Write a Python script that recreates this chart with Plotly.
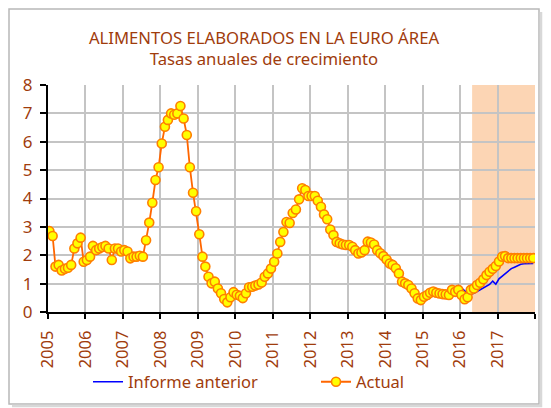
import plotly.graph_objects as go

# ==========================================
# DATA
# ==========================================

years = list(range(2005, 2018))
months = [f"{y}-{m:02d}-15" for y in years for m in range(1, 13)]

actual = [
    2.85, 2.68, 1.60, 1.66, 1.46, 1.52, 1.56, 1.66, 2.24, 2.42, 2.62, 1.77,  # 2005
    1.83, 1.95, 2.33, 2.18, 2.24, 2.29, 2.33, 2.24, 1.83, 2.24, 2.24, 2.13,  # 2006
    2.18, 2.13, 1.89, 1.95, 1.95, 1.98, 1.95, 2.53, 3.15, 3.85, 4.65, 5.10,  # 2007
    5.94, 6.53, 6.77, 7.00, 6.95, 7.00, 7.26, 6.82, 6.24, 5.10, 4.20, 3.55,  # 2008
    2.74, 1.95, 1.60, 1.24, 1.01, 1.07, 0.83, 0.66, 0.46, 0.34, 0.52, 0.70,  # 2009
    0.61, 0.57, 0.49, 0.66, 0.87, 0.89, 0.93, 0.97, 1.04, 1.24, 1.36, 1.53,  # 2010
    1.77, 2.06, 2.47, 2.82, 3.17, 3.14, 3.49, 3.61, 3.97, 4.36, 4.30, 4.09,  # 2011
    4.09, 4.09, 3.92, 3.71, 3.44, 3.27, 2.91, 2.71, 2.47, 2.42, 2.38, 2.36,  # 2012
    2.36, 2.30, 2.18, 2.06, 2.10, 2.18, 2.48, 2.45, 2.38, 2.18, 2.07, 1.97,  # 2013
    1.85, 1.71, 1.66, 1.54, 1.36, 1.07, 1.01, 0.95, 0.83, 0.66, 0.48, 0.42,  # 2014
    0.54, 0.60, 0.68, 0.72, 0.68, 0.65, 0.63, 0.62, 0.60, 0.78, 0.71, 0.78,  # 2015
    0.60, 0.45, 0.52, 0.78, 0.83, 0.95, 1.03, 1.15, 1.30, 1.42, 1.52, 1.62,  # 2016
    1.78, 1.95, 1.97, 1.90, 1.90, 1.90, 1.90, 1.90, 1.90, 1.90, 1.90, 1.90,  # 2017
]

# previous report: Dec 2015 -> Dec 2017
previous_start = 131
previous = [
    0.95, 0.85, 0.75, 0.66, 0.63, 0.66, 0.72, 0.78, 0.85, 0.90, 0.97, 1.09,
    0.98, 1.17, 1.27, 1.36, 1.46, 1.53, 1.58, 1.63, 1.68, 1.70, 1.71, 1.71, 1.71,
]

forecast_start = "2016-04-28"
forecast_end = "2018-01-01"

tick_vals = [f"{y}-01-01" for y in years + [2018]]
tick_text = [str(y) for y in years] + [""]

# ==========================================
# STYLE
# ==========================================

brown = "#A03C0C"
font_family = "Noto Sans, Liberation Sans, Arial, sans-serif"

# the page body adds an 8px margin, so the figure is 8px smaller each way
W, H = 543, 400
L, R, T, B = 40, 16, 77, 96
pw, ph = W - L - R, H - T - B

def px(x):
    return (x - L) / pw

def py(y):
    return (H - B - y) / ph

fig = go.Figure()

fig.add_trace(go.Scatter(
    x=months[previous_start:],
    y=previous,
    mode="lines",
    line=dict(color="#0000FF", width=1.6),
    name="Informe anterior",
    legendwidth=183
))

fig.add_trace(go.Scatter(
    x=months,
    y=actual,
    mode="lines+markers",
    line=dict(color="#FF6600", width=1.8),
    marker=dict(color="#FFFF00", size=9, line=dict(color="#FF7F00", width=1.6)),
    name="Actual"
))

# forecast shading
fig.add_shape(type="rect", xref="x", yref="paper",
              x0=forecast_start, x1=forecast_end, y0=0, y1=1,
              fillcolor="#FCD5B4", line=dict(width=0), layer="between")

# chart frame with a soft shadow on the right and bottom
fig.add_shape(type="rect", xref="paper", yref="paper",
              x0=px(1), x1=px(531), y0=py(396), y1=py(1),
              line=dict(color="#B8B8B8", width=1.5), layer="above")
fig.add_shape(type="path", xref="paper", yref="paper",
              path=f"M {px(533)} {py(4)} L {px(533)} {py(398)} L {px(4)} {py(398)}",
              line=dict(color="#D8D8D8", width=2.5), layer="above")

fig.update_layout(
    width=W,
    height=H,
    margin=dict(l=L, r=R, t=T, b=B, autoexpand=False),
    paper_bgcolor="white",
    plot_bgcolor="white",
    font=dict(family=font_family, color=brown, size=16),
    title=dict(
        text="ALIMENTOS ELABORADOS EN LA EURO ÁREA<br>Tasas anuales de crecimiento",
        x=px(256), xref="paper", xanchor="center",
        y=1 - 35.5 / H, yref="container", yanchor="top",
        font=dict(family=font_family, color=brown, size=16.7)
    ),
    xaxis=dict(
        type="date",
        range=["2005-01-01", "2018-01-01"],
        tickvals=tick_vals,
        ticktext=tick_text,
        tickangle=-90,
        ticks="outside",
        ticklen=5,
        tickcolor="black",
        tickwidth=1.5,
        ticklabelstandoff=5,
        showline=True,
        linecolor="black",
        linewidth=2,
        showgrid=True,
        gridcolor="#C4C4C4",
        gridwidth=1.5,
        zeroline=False,
        tickfont=dict(size=16.5, color=brown)
    ),
    yaxis=dict(
        range=[0, 8],
        dtick=1,
        ticks="outside",
        ticklen=6,
        tickcolor="black",
        tickwidth=1.5,
        ticklabelstandoff=4,
        showline=True,
        linecolor="black",
        linewidth=2,
        showgrid=True,
        gridcolor="#C4C4C4",
        gridwidth=1.5,
        zeroline=False,
        tickfont=dict(size=17, color=brown)
    ),
    legend=dict(
        orientation="h",
        x=px(80), xanchor="left",
        y=py(374), yanchor="middle",
        font=dict(size=16.5, color=brown),
        bgcolor="rgba(0,0,0,0)"
    ),
    showlegend=True
)

fig.write_html("out.html")
